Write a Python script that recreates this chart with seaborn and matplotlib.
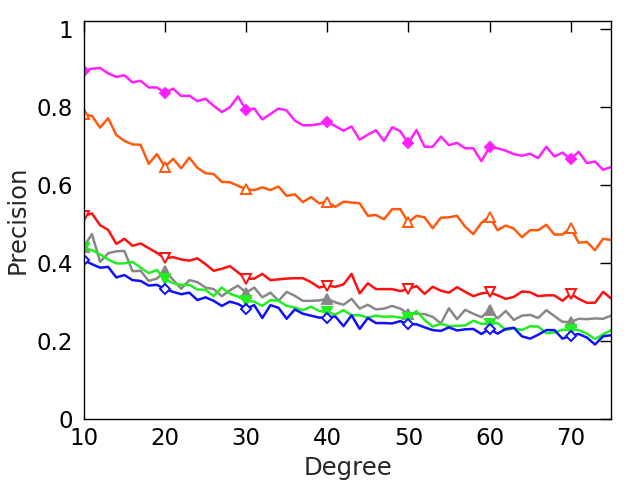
import seaborn as sns
import matplotlib.pyplot as plt
import pandas as pd
import numpy as np

# degree values 10..75
degree = list(range(10, 76))

magenta = [0.892, 0.898, 0.900, 0.886, 0.877, 0.881, 0.863, 0.867, 0.850, 0.850,
           0.836, 0.847, 0.828, 0.829, 0.815, 0.821, 0.803, 0.787, 0.799, 0.827,
           0.792, 0.796, 0.768, 0.782, 0.796, 0.791, 0.765, 0.753, 0.753, 0.756,
           0.761, 0.751, 0.739, 0.750, 0.716, 0.729, 0.740, 0.713, 0.748, 0.738,
           0.707, 0.741, 0.698, 0.698, 0.724, 0.702, 0.708, 0.694, 0.694, 0.661,
           0.697, 0.694, 0.688, 0.679, 0.675, 0.680, 0.669, 0.698, 0.673, 0.683,
           0.666, 0.685, 0.656, 0.660, 0.639, 0.646]

orange = [0.781, 0.777, 0.747, 0.771, 0.728, 0.713, 0.704, 0.703, 0.654, 0.679,
          0.647, 0.667, 0.643, 0.670, 0.644, 0.630, 0.628, 0.608, 0.607, 0.598,
          0.589, 0.587, 0.594, 0.587, 0.596, 0.572, 0.576, 0.556, 0.569, 0.553,
          0.557, 0.544, 0.557, 0.555, 0.553, 0.521, 0.523, 0.512, 0.538, 0.538,
          0.504, 0.521, 0.517, 0.489, 0.516, 0.517, 0.521, 0.493, 0.474, 0.503,
          0.519, 0.484, 0.496, 0.488, 0.466, 0.484, 0.484, 0.498, 0.473, 0.473,
          0.490, 0.452, 0.454, 0.433, 0.462, 0.459]

red = [0.521, 0.527, 0.497, 0.485, 0.449, 0.462, 0.444, 0.450, 0.438, 0.426,
       0.412, 0.415, 0.409, 0.406, 0.412, 0.397, 0.380, 0.385, 0.392, 0.376,
       0.359, 0.360, 0.372, 0.356, 0.358, 0.360, 0.361, 0.361, 0.351, 0.337,
       0.342, 0.339, 0.345, 0.372, 0.322, 0.348, 0.333, 0.333, 0.333, 0.328,
       0.333, 0.341, 0.321, 0.339, 0.329, 0.324, 0.338, 0.326, 0.315, 0.322,
       0.325, 0.317, 0.308, 0.313, 0.327, 0.325, 0.315, 0.317, 0.317, 0.303,
       0.321, 0.308, 0.298, 0.298, 0.326, 0.309]

gray = [0.442, 0.474, 0.403, 0.425, 0.430, 0.431, 0.379, 0.380, 0.354, 0.360,
        0.379, 0.357, 0.334, 0.356, 0.351, 0.337, 0.333, 0.315, 0.330, 0.342,
        0.324, 0.337, 0.312, 0.324, 0.303, 0.326, 0.316, 0.303, 0.303, 0.304,
        0.308, 0.299, 0.293, 0.308, 0.283, 0.293, 0.281, 0.283, 0.290, 0.283,
        0.270, 0.270, 0.269, 0.262, 0.245, 0.284, 0.256, 0.280, 0.270, 0.261,
        0.279, 0.258, 0.277, 0.254, 0.265, 0.267, 0.259, 0.279, 0.264, 0.249,
        0.249, 0.257, 0.256, 0.258, 0.257, 0.265]

green = [0.438, 0.433, 0.422, 0.409, 0.399, 0.399, 0.403, 0.388, 0.374, 0.382,
         0.359, 0.348, 0.344, 0.344, 0.332, 0.331, 0.315, 0.337, 0.321, 0.314,
         0.303, 0.301, 0.290, 0.305, 0.303, 0.290, 0.286, 0.279, 0.288, 0.277,
         0.274, 0.268, 0.279, 0.266, 0.266, 0.260, 0.265, 0.262, 0.263, 0.260,
         0.259, 0.277, 0.254, 0.237, 0.244, 0.238, 0.239, 0.240, 0.252, 0.244,
         0.244, 0.246, 0.228, 0.233, 0.228, 0.238, 0.237, 0.220, 0.222, 0.229,
         0.229, 0.228, 0.219, 0.205, 0.217, 0.228]

blue = [0.407, 0.397, 0.388, 0.390, 0.363, 0.369, 0.356, 0.354, 0.342, 0.344,
        0.333, 0.326, 0.320, 0.324, 0.305, 0.312, 0.303, 0.290, 0.301, 0.295,
        0.283, 0.292, 0.259, 0.292, 0.285, 0.257, 0.281, 0.270, 0.265, 0.260,
        0.260, 0.263, 0.238, 0.266, 0.231, 0.259, 0.246, 0.246, 0.245, 0.251,
        0.243, 0.243, 0.235, 0.228, 0.226, 0.235, 0.227, 0.230, 0.231, 0.218,
        0.231, 0.219, 0.231, 0.234, 0.212, 0.206, 0.216, 0.228, 0.228, 0.206,
        0.214, 0.218, 0.209, 0.191, 0.212, 0.215]

series = [
    (magenta, '#ff20ff', 'D', True),
    (orange, '#ff5a10', '^', False),
    (red, '#ff1010', 'v', False),
    (gray, '#888888', '^', True),
    (green, '#22ee22', 'v', True),
    (blue, '#1010ff', 'D', False),
]

sns.set_style("white")
plt.rcParams['font.family'] = ['DejaVu Sans']

fig = plt.figure(figsize=(6.4, 4.8), dpi=100)
ax = fig.add_axes([0.131, 0.127, 0.824, 0.829])

for values, color, mk, filled in series:
    ms = 5.5 if mk == 'D' else 6.5
    sns.lineplot(x=degree, y=values, ax=ax, color=color, linewidth=1.8,
                 marker=mk, markersize=ms, markevery=10,
                 markerfacecolor=color if filled else 'white',
                 markeredgecolor=color, markeredgewidth=1.4)

ax.set_xlim(10, 75)
ax.set_ylim(0, 1.02)
ax.set_xticks([10, 20, 30, 40, 50, 60, 70])
ax.set_yticks([0, 0.2, 0.4, 0.6, 0.8, 1.0])
ax.set_yticklabels(['0', '0.2', '0.4', '0.6', '0.8', '1'])
ax.tick_params(direction='in', length=8, width=1, top=True, right=True,
               labelsize=16.5, colors='black')
ax.tick_params(axis='x', pad=6)
ax.tick_params(axis='y', pad=8)
for s in ax.spines.values():
    s.set_color('black')
    s.set_linewidth(1)
ax.set_xlabel('Degree', fontsize=17.5, labelpad=4)
ax.set_ylabel('Precision', fontsize=17.5, labelpad=5)

fig.savefig('out.png', dpi=100)
